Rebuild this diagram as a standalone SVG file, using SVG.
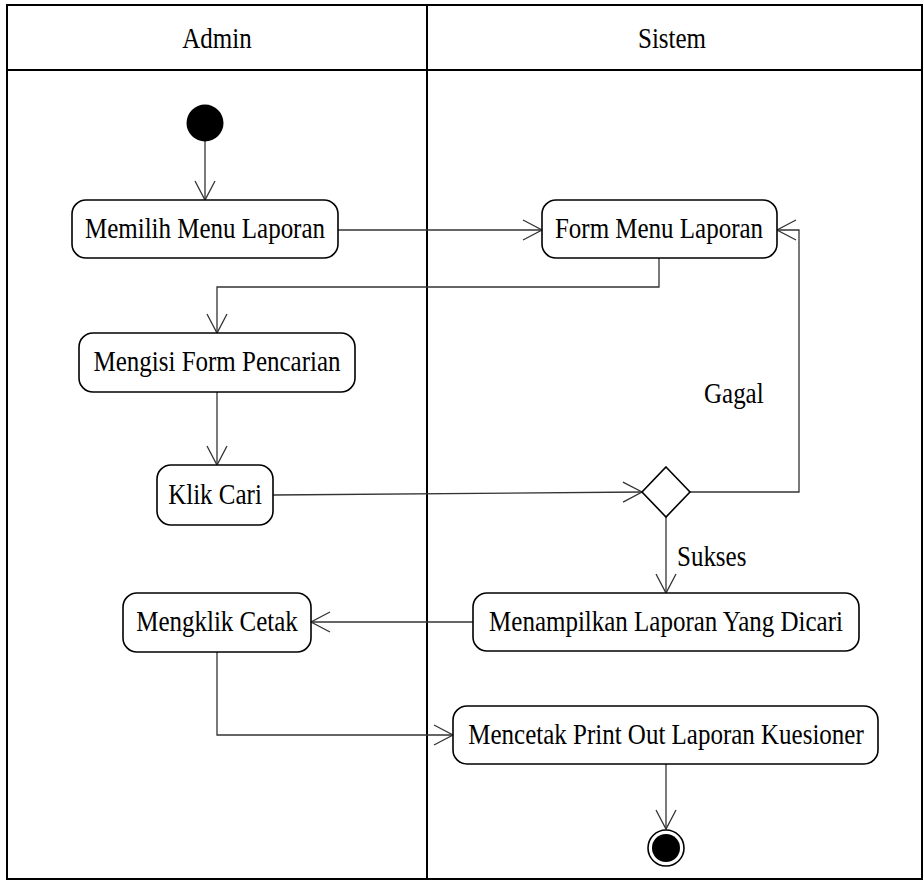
<svg xmlns="http://www.w3.org/2000/svg" width="924" height="881" viewBox="0 0 924 881">
<defs>
<style>
.lane{fill:none;stroke:#000;stroke-width:2}
.box{fill:#fff;stroke:#000;stroke-width:1.6}
.t{font-family:"Liberation Serif","Times New Roman",serif;font-size:25px;fill:#000}
.c{text-anchor:middle}
.con{fill:none;stroke:#333;stroke-width:1.3}
</style>
<marker id="arr" markerUnits="userSpaceOnUse" viewBox="-21 -12 23 24" markerWidth="23" markerHeight="24" refX="0" refY="0" orient="auto">
<path d="M-19,-10 L0,0 L-19,10" fill="none" stroke="#333" stroke-width="1.3"/>
</marker>
</defs>
<rect width="924" height="881" fill="#fff"/>
<g id="lanes">
<rect class="lane" x="7" y="5" width="915" height="874"/>
<line class="lane" x1="7" y1="70" x2="922" y2="70"/>
<line class="lane" x1="427" y1="5" x2="427" y2="879"/>
<text class="t c" transform="translate(217,48) scale(1,1.17)">Admin</text>
<text class="t c" transform="translate(672,48) scale(1,1.17)">Sistem</text>
</g>
<g id="connectors">
<line class="con" x1="205" y1="141" x2="205" y2="200" marker-end="url(#arr)"/>
<line class="con" x1="338" y1="230" x2="542" y2="230" marker-end="url(#arr)"/>
<polyline class="con" points="659,258 659,287 217,287 217,333" marker-end="url(#arr)"/>
<line class="con" x1="217" y1="392" x2="217" y2="465" marker-end="url(#arr)"/>
<line class="con" x1="273" y1="495" x2="642" y2="492" marker-end="url(#arr)"/>
<polyline class="con" points="690,492 799,492 799,230 777,230" marker-end="url(#arr)"/>
<line class="con" x1="666" y1="517" x2="666" y2="593" marker-end="url(#arr)"/>
<line class="con" x1="473" y1="622" x2="311" y2="622" marker-end="url(#arr)"/>
<polyline class="con" points="217,652 217,735 453,735" marker-end="url(#arr)"/>
<line class="con" x1="666" y1="764" x2="666" y2="829" marker-end="url(#arr)"/>
<text class="t" transform="translate(704,403) scale(1,1.17)">Gagal</text>
<text class="t" transform="translate(677,566) scale(1,1.17)">Sukses</text>
</g>
<g id="start">
<circle cx="205" cy="123" r="18.5" fill="#000"/>
</g>
<g id="memilih">
<rect class="box" x="72" y="200" width="266" height="58" rx="14"/>
<text class="t c" transform="translate(205,238) scale(1,1.17)">Memilih Menu Laporan</text>
</g>
<g id="form">
<rect class="box" x="542" y="200" width="235" height="58" rx="14"/>
<text class="t c" transform="translate(659,238) scale(1,1.17)">Form Menu Laporan</text>
</g>
<g id="mengisi">
<rect class="box" x="79" y="333" width="276" height="59" rx="14"/>
<text class="t c" transform="translate(217,371) scale(1,1.17)">Mengisi Form Pencarian</text>
</g>
<g id="klik">
<rect class="box" x="157" y="465" width="116" height="60" rx="14"/>
<text class="t c" transform="translate(215,504) scale(1,1.17)">Klik Cari</text>
</g>
<g id="decision">
<polygon class="box" points="666,467 690,492 666,517 642,492"/>
</g>
<g id="menampilkan">
<rect class="box" x="473" y="593" width="386" height="58" rx="14"/>
<text class="t c" transform="translate(666,631) scale(1,1.17)">Menampilkan Laporan Yang Dicari</text>
</g>
<g id="mengklik">
<rect class="box" x="123" y="593" width="188" height="59" rx="14"/>
<text class="t c" transform="translate(217,631) scale(1,1.17)">Mengklik Cetak</text>
</g>
<g id="mencetak">
<rect class="box" x="453" y="706" width="425" height="58" rx="14"/>
<text class="t c" transform="translate(666,744) scale(1,1.17)">Mencetak Print Out Laporan Kuesioner</text>
</g>
<g id="end">
<circle cx="666" cy="848" r="18" fill="#fff" stroke="#000" stroke-width="1.6"/>
<circle cx="666" cy="848" r="14" fill="#000"/>
</g>
</svg>
